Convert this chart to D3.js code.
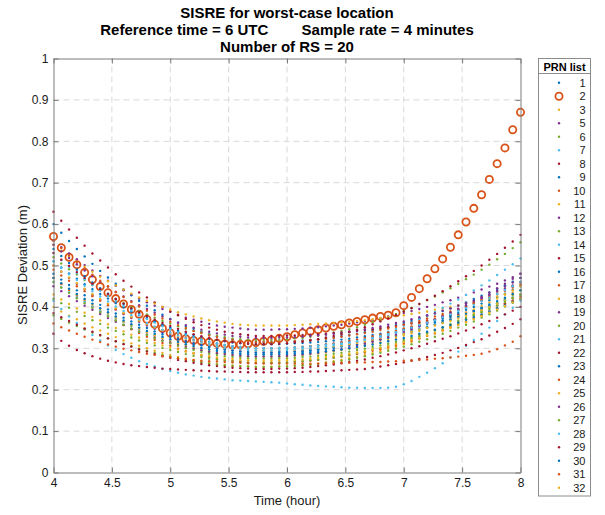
<!DOCTYPE html>
<html>
<head>
<meta charset="utf-8">
<script src="https://cdn.jsdelivr.net/npm/d3@7"></script>
<style>
  body { margin: 0; background: #fff; }
  svg { display: block; font-family: "Liberation Sans", Arial, Helvetica, sans-serif; }
</style>
</head>
<body>
<div id="chart"></div>
<script>
'use strict';

// sample times in minutes after 0 UTC (4 minute sample rate, 4h to 8h)
var minutes = [240,244,248,252,256,260,264,268,272,276,280,284,288,292,296,300,304,308,312,316,
  320,324,328,332,336,340,344,348,352,356,360,364,368,372,376,380,384,388,392,396,
  400,404,408,412,416,420,424,428,432,436,440,444,448,452,456,460,464,468,472,476,480];

var prnList = [1,2,3,5,6,7,8,9,10,11,12,13,14,15,16,17,18,19,20,21,22,23,24,25,26,27,28,29,30,31,32];
var xTicks = [4,4.5,5,5.5,6,6.5,7,7.5,8];
var yTicks = [0,0.1,0.2,0.3,0.4,0.5,0.6,0.7,0.8,0.9,1];

// SISRE deviation (m) per PRN
var p1  = [.600,.579,.559,.540,.522,.504,.487,.471,.456,.442,.428,.415,.403,.392,.381,.371,.362,.354,.347,.340,.334,.329,.325,.321,.318,.316,.315,.315,.315,.316,.316,.317,.319,.320,.322,.324,.327,.329,.332,.335,.339,.343,.347,.351,.356,.361,.366,.372,.378,.384,.390,.397,.404,.411,.419,.427,.435,.443,.452,.461,.470];
var p2  = [.570,.543,.520,.502,.483,.466,.449,.434,.420,.407,.394,.382,.370,.358,.348,.337,.329,.323,.319,.317,.315,.312,.310,.308,.309,.311,.314,.317,.320,.324,.328,.333,.337,.341,.345,.349,.353,.357,.361,.365,.369,.373,.377,.380,.386,.403,.423,.444,.468,.492,.516,.544,.574,.605,.638,.671,.708,.746,.784,.828,.870];
var p3  = [.400,.389,.379,.370,.360,.351,.343,.335,.327,.319,.312,.306,.300,.294,.289,.284,.279,.275,.271,.268,.265,.262,.260,.258,.257,.256,.255,.255,.255,.256,.257,.258,.259,.261,.263,.266,.269,.272,.276,.279,.284,.288,.293,.299,.304,.310,.316,.323,.330,.337,.345,.353,.361,.370,.379,.388,.398,.408,.418,.429,.440];
var p5  = [.560,.544,.529,.515,.501,.488,.475,.463,.451,.440,.430,.420,.411,.403,.395,.388,.381,.374,.369,.364,.359,.355,.352,.350,.348,.346,.345,.345,.345,.346,.346,.347,.348,.350,.351,.353,.355,.357,.360,.363,.366,.369,.373,.377,.381,.385,.390,.395,.400,.405,.411,.416,.422,.429,.435,.442,.449,.456,.464,.472,.480];
var p6  = [.520,.505,.491,.478,.465,.453,.441,.430,.419,.409,.399,.390,.382,.374,.366,.360,.353,.347,.342,.338,.333,.330,.327,.324,.322,.321,.320,.320,.320,.321,.322,.324,.325,.328,.331,.334,.338,.342,.346,.351,.357,.363,.369,.376,.383,.390,.398,.407,.416,.425,.435,.445,.456,.467,.478,.490,.502,.515,.528,.542,.556];
var p7  = [.415,.395,.377,.361,.346,.332,.319,.307,.296,.286,.277,.269,.262,.256,.250,.245,.241,.237,.234,.231,.229,.227,.225,.223,.222,.221,.220,.219,.218,.217,.215,.213,.212,.210,.209,.208,.207,.206,.205,.205,.204,.204,.204,.205,.207,.213,.221,.231,.241,.252,.264,.278,.292,.306,.320,.335,.350,.366,.382,.398,.415];
var p8  = [.630,.608,.587,.567,.548,.529,.512,.495,.479,.463,.449,.435,.423,.411,.400,.389,.380,.371,.363,.356,.350,.345,.340,.337,.334,.332,.330,.330,.330,.330,.331,.331,.332,.333,.334,.335,.337,.338,.340,.342,.344,.346,.349,.351,.354,.357,.360,.363,.367,.370,.374,.378,.382,.386,.390,.395,.400,.404,.409,.415,.420];
var p9  = [.540,.523,.506,.490,.474,.459,.445,.432,.419,.407,.395,.384,.374,.365,.356,.348,.340,.333,.327,.321,.316,.312,.308,.305,.303,.301,.300,.300,.300,.301,.301,.302,.303,.305,.307,.309,.311,.314,.317,.320,.323,.327,.331,.335,.340,.345,.350,.355,.361,.367,.373,.379,.386,.393,.400,.408,.416,.424,.432,.441,.450];
var p10 = [.470,.455,.441,.427,.414,.401,.389,.378,.367,.356,.346,.337,.328,.320,.313,.306,.299,.293,.288,.283,.279,.275,.272,.270,.268,.266,.265,.265,.265,.266,.266,.267,.268,.270,.272,.274,.277,.280,.283,.286,.290,.294,.298,.303,.307,.313,.318,.324,.330,.336,.343,.350,.357,.364,.372,.380,.389,.397,.406,.415,.425];
var p11 = [.550,.536,.522,.509,.497,.485,.473,.462,.452,.442,.432,.423,.415,.408,.400,.394,.387,.382,.377,.372,.368,.365,.362,.359,.357,.356,.355,.355,.355,.355,.355,.356,.357,.358,.359,.360,.361,.363,.364,.366,.368,.370,.373,.375,.378,.380,.383,.386,.389,.393,.396,.400,.404,.408,.412,.416,.421,.425,.430,.435,.440];
var p12 = [.500,.485,.470,.456,.443,.429,.417,.405,.394,.383,.373,.364,.355,.347,.339,.332,.325,.319,.313,.309,.304,.300,.297,.295,.293,.291,.290,.290,.290,.291,.291,.293,.294,.296,.298,.301,.303,.307,.310,.314,.318,.322,.327,.332,.338,.344,.350,.356,.363,.370,.378,.385,.393,.402,.410,.420,.429,.439,.449,.459,.470];
var p13 = [.380,.371,.362,.354,.346,.338,.331,.324,.317,.311,.305,.299,.294,.289,.284,.280,.276,.272,.269,.266,.263,.261,.259,.258,.257,.256,.255,.255,.255,.256,.256,.258,.259,.260,.262,.265,.267,.270,.273,.277,.281,.285,.289,.294,.299,.304,.310,.316,.322,.328,.335,.342,.350,.357,.365,.374,.382,.391,.401,.410,.420];
var p14 = [.460,.447,.435,.423,.412,.401,.391,.381,.372,.363,.354,.346,.339,.332,.326,.320,.314,.309,.304,.300,.297,.294,.291,.289,.287,.286,.285,.285,.285,.286,.287,.289,.290,.293,.295,.299,.302,.306,.311,.316,.321,.327,.333,.340,.347,.354,.362,.370,.379,.388,.398,.408,.418,.429,.440,.452,.464,.477,.490,.503,.517];
var p15 = [.335,.318,.306,.296,.288,.281,.275,.270,.266,.262,.259,.257,.255,.253,.251,.250,.249,.248,.247,.246,.245,.244,.244,.243,.243,.242,.242,.242,.242,.242,.242,.243,.243,.244,.244,.245,.246,.247,.248,.249,.250,.253,.256,.259,.262,.266,.270,.274,.279,.284,.289,.295,.301,.308,.315,.322,.331,.340,.349,.359,.370];
var p16 = [.510,.495,.481,.468,.455,.443,.431,.420,.409,.399,.389,.380,.372,.364,.356,.350,.343,.337,.332,.328,.323,.320,.317,.314,.312,.311,.310,.310,.310,.310,.311,.312,.313,.314,.315,.317,.319,.321,.323,.326,.329,.332,.335,.338,.342,.346,.350,.354,.359,.363,.368,.374,.379,.385,.390,.396,.403,.409,.416,.423,.430];
var p17 = [.490,.476,.463,.450,.438,.426,.415,.404,.394,.384,.375,.367,.359,.351,.344,.338,.332,.326,.321,.317,.313,.309,.307,.304,.302,.301,.300,.300,.300,.301,.301,.302,.304,.305,.307,.309,.312,.315,.318,.321,.325,.329,.333,.338,.342,.348,.353,.359,.365,.371,.378,.385,.392,.399,.407,.415,.424,.432,.441,.450,.460];
var p18 = [.470,.456,.443,.430,.418,.406,.395,.384,.374,.364,.355,.347,.339,.331,.324,.318,.312,.306,.301,.297,.293,.289,.287,.284,.282,.281,.280,.280,.280,.281,.281,.283,.284,.286,.288,.290,.293,.296,.299,.302,.306,.311,.315,.320,.325,.331,.336,.342,.349,.356,.363,.370,.378,.386,.394,.402,.411,.420,.430,.440,.450];
var p19 = [.550,.534,.518,.503,.488,.474,.461,.449,.436,.425,.414,.404,.395,.386,.377,.370,.362,.356,.350,.345,.340,.336,.333,.330,.328,.326,.325,.325,.325,.326,.326,.327,.328,.330,.331,.333,.335,.337,.340,.343,.346,.349,.353,.357,.361,.365,.370,.375,.380,.385,.391,.396,.403,.409,.415,.422,.429,.437,.444,.452,.460];
var p20 = [.420,.409,.398,.388,.378,.368,.359,.350,.342,.334,.326,.319,.313,.307,.301,.296,.291,.286,.282,.279,.275,.273,.270,.268,.267,.266,.265,.265,.265,.266,.266,.268,.269,.271,.273,.275,.278,.281,.284,.288,.292,.297,.301,.306,.311,.317,.323,.329,.336,.343,.350,.358,.366,.374,.382,.391,.400,.410,.419,.430,.440];
var p21 = [.530,.513,.497,.482,.467,.453,.439,.426,.414,.402,.391,.381,.371,.362,.353,.346,.338,.332,.326,.320,.315,.311,.308,.305,.303,.301,.300,.300,.300,.301,.301,.302,.303,.304,.306,.308,.310,.312,.314,.317,.320,.323,.327,.331,.335,.339,.343,.348,.353,.358,.363,.369,.375,.381,.387,.394,.400,.407,.415,.422,.430];
var p22 = [.385,.375,.366,.357,.348,.340,.332,.324,.317,.310,.304,.297,.292,.286,.281,.277,.272,.269,.265,.262,.259,.257,.255,.253,.252,.251,.250,.250,.250,.251,.251,.252,.253,.255,.257,.259,.261,.264,.267,.270,.273,.277,.281,.285,.290,.295,.300,.305,.311,.317,.323,.329,.336,.343,.350,.358,.366,.374,.382,.391,.400];
var p23 = [.480,.466,.453,.440,.428,.416,.405,.394,.384,.374,.365,.357,.349,.341,.334,.328,.322,.316,.311,.307,.303,.299,.297,.294,.292,.291,.290,.290,.290,.291,.291,.292,.293,.295,.297,.299,.301,.304,.307,.310,.313,.317,.321,.325,.330,.335,.340,.345,.351,.357,.363,.369,.376,.383,.390,.398,.406,.414,.422,.431,.440];
var p24 = [.560,.542,.525,.509,.493,.478,.463,.450,.436,.424,.412,.401,.391,.381,.372,.364,.356,.349,.342,.337,.331,.327,.323,.320,.318,.316,.315,.315,.315,.316,.316,.317,.318,.320,.321,.323,.325,.328,.331,.334,.337,.340,.344,.348,.352,.357,.361,.366,.372,.377,.383,.389,.395,.402,.409,.416,.423,.431,.439,.447,.455];
var p25 = [.500,.485,.471,.457,.444,.431,.419,.408,.397,.386,.376,.367,.358,.350,.343,.336,.329,.323,.318,.313,.309,.305,.302,.300,.298,.296,.295,.295,.295,.296,.296,.297,.298,.300,.301,.303,.305,.307,.310,.313,.316,.319,.323,.327,.331,.335,.340,.345,.350,.355,.361,.366,.372,.379,.385,.392,.399,.407,.414,.422,.430];
var p26 = [.450,.438,.426,.414,.403,.393,.383,.373,.364,.356,.347,.340,.333,.326,.319,.314,.308,.303,.299,.295,.291,.288,.286,.284,.282,.281,.280,.280,.280,.281,.282,.283,.285,.287,.289,.292,.295,.298,.302,.306,.311,.316,.321,.327,.333,.340,.346,.353,.361,.369,.377,.386,.395,.404,.414,.424,.434,.445,.456,.468,.480];
var p27 = [.460,.447,.434,.421,.409,.398,.387,.377,.367,.357,.348,.340,.332,.325,.318,.312,.306,.300,.296,.291,.287,.284,.281,.279,.277,.276,.275,.275,.275,.276,.276,.277,.279,.280,.282,.284,.287,.289,.292,.296,.299,.303,.307,.311,.316,.321,.326,.332,.338,.344,.350,.357,.364,.371,.379,.387,.395,.403,.412,.421,.430];
var p28 = [.510,.494,.479,.465,.451,.438,.425,.413,.401,.390,.380,.370,.361,.353,.345,.338,.331,.324,.319,.314,.309,.305,.302,.300,.298,.296,.295,.295,.295,.296,.296,.298,.299,.300,.302,.305,.307,.310,.313,.317,.321,.325,.329,.334,.339,.344,.350,.356,.362,.368,.375,.382,.390,.397,.405,.414,.422,.431,.441,.450,.460];
var p29 = [.530,.514,.499,.484,.470,.456,.443,.431,.419,.408,.397,.387,.378,.369,.361,.354,.347,.340,.334,.329,.325,.321,.318,.315,.313,.311,.310,.310,.310,.311,.312,.314,.316,.319,.322,.326,.330,.334,.339,.345,.351,.358,.365,.372,.380,.389,.397,.407,.417,.427,.438,.450,.462,.474,.487,.500,.514,.528,.543,.558,.574];
var p30 = [.470,.457,.444,.431,.419,.408,.397,.387,.377,.367,.358,.350,.342,.335,.328,.322,.316,.310,.306,.301,.297,.294,.291,.289,.287,.286,.285,.285,.285,.286,.286,.287,.288,.290,.291,.293,.295,.297,.300,.303,.306,.309,.313,.317,.321,.325,.330,.335,.340,.345,.351,.356,.362,.369,.375,.382,.389,.397,.404,.412,.420];
var p31 = [.360,.351,.343,.335,.328,.321,.315,.309,.304,.299,.295,.291,.287,.284,.281,.278,.276,.274,.272,.270,.269,.268,.267,.266,.265,.264,.264,.263,.263,.263,.263,.263,.263,.263,.263,.264,.264,.265,.265,.266,.266,.267,.267,.268,.269,.270,.271,.272,.273,.275,.276,.278,.280,.282,.284,.287,.292,.298,.307,.316,.329];
var p32 = [.430,.418,.407,.396,.386,.376,.367,.358,.349,.341,.333,.326,.319,.313,.307,.302,.297,.292,.288,.284,.281,.278,.275,.274,.272,.271,.270,.270,.270,.271,.271,.272,.273,.275,.277,.279,.281,.284,.287,.290,.293,.297,.301,.305,.310,.315,.320,.325,.331,.337,.343,.349,.356,.363,.370,.378,.386,.394,.402,.411,.420];

var sisre = [p1,p2,p3,p5,p6,p7,p8,p9,p10,p11,p12,p13,p14,p15,p16,p17,p18,p19,p20,p21,p22,p23,p24,p25,p26,p27,p28,p29,p30,p31,p32];

// matlab default line colours
var palette = ['#0072BD','#D95319','#EDB120','#7E2F8E','#77AC30','#4DBEEE','#A2142F'];
var circlePrn = 2;

var width = 605, height = 515;
var axisColor = '#7a7a7a', textColor = '#1a1a1a';

var svg = d3.select('#chart').append('svg')
  .attr('width', width)
  .attr('height', height);

svg.append('rect').attr('width', width).attr('height', height).attr('fill', '#fff');

var x = d3.scaleLinear().domain([4, 8]).range([53.5, 520.5]);
var y = d3.scaleLinear().domain([0, 1]).range([472.5, 58.5]);

// dashed grid
var grid = svg.append('g').attr('stroke', '#d9d9d9').attr('stroke-dasharray', '6,4');
grid.selectAll('line.gx')
  .data(xTicks.slice(1, -1))
  .enter().append('line')
    .attr('x1', function(d) { return x(d); })
    .attr('x2', function(d) { return x(d); })
    .attr('y1', y(0))
    .attr('y2', y(1));
grid.selectAll('line.gy')
  .data(yTicks.slice(1, -1))
  .enter().append('line')
    .attr('x1', x(4))
    .attr('x2', x(8))
    .attr('y1', function(d) { return y(d); })
    .attr('y2', function(d) { return y(d); });

// points, one group per PRN in plotting order
var plot = svg.append('g');
sisre.forEach(function(vals, k) {
  var color = palette[k % palette.length];
  var g = plot.append('g');
  if (prnList[k] === circlePrn) {
    g.selectAll('circle')
      .data(vals)
      .enter().append('circle')
        .attr('cx', function(d, i) { return x(minutes[i] / 60); })
        .attr('cy', function(d) { return y(d); })
        .attr('r', 3.6)
        .attr('fill', 'none')
        .attr('stroke', color)
        .attr('stroke-width', 1.8);
  } else {
    g.selectAll('circle')
      .data(vals)
      .enter().append('circle')
        .attr('cx', function(d, i) { return x(minutes[i] / 60); })
        .attr('cy', function(d) { return y(d); })
        .attr('r', 1.2)
        .attr('fill', color);
  }
});

// axes, ticks pointing inwards on all four sides
function styleAxis(sel) {
  sel.attr('font-family', null).attr('font-size', 12);
  sel.selectAll('.domain').attr('stroke', axisColor);
  sel.selectAll('.tick line').attr('stroke', axisColor);
  sel.selectAll('.tick text').attr('fill', textColor);
}

svg.append('g')
  .attr('transform', 'translate(0,' + y(0) + ')')
  .call(d3.axisBottom(x).tickValues(xTicks).tickFormat(d3.format('~g'))
    .tickSizeInner(-5).tickSizeOuter(0).tickPadding(6))
  .call(styleAxis);

svg.append('g')
  .attr('transform', 'translate(' + x(4) + ',0)')
  .call(d3.axisLeft(y).tickValues(yTicks).tickFormat(d3.format('~g'))
    .tickSizeInner(-5).tickSizeOuter(0).tickPadding(5))
  .call(styleAxis);

svg.append('g')
  .attr('transform', 'translate(0,' + y(1) + ')')
  .call(d3.axisTop(x).tickValues(xTicks).tickFormat('').tickSizeInner(-5).tickSizeOuter(0))
  .call(styleAxis);

svg.append('g')
  .attr('transform', 'translate(' + x(8) + ',0)')
  .call(d3.axisRight(y).tickValues(yTicks).tickFormat('').tickSizeInner(-5).tickSizeOuter(0))
  .call(styleAxis);

// titles
var titles = ['SISRE for worst-case location',
  'Reference time = 6 UTC        Sample rate = 4 minutes',
  'Number of RS = 20'];
svg.selectAll('text.title')
  .data(titles)
  .enter().append('text')
    .attr('class', 'title')
    .attr('x', 287)
    .attr('y', function(d, i) { return 17.5 + i * 17; })
    .attr('text-anchor', 'middle')
    .attr('font-size', 15)
    .attr('font-weight', 'bold')
    .attr('fill', '#000')
    .style('white-space', 'pre')
    .text(function(d) { return d; });

svg.append('text')
  .attr('x', 287)
  .attr('y', 505)
  .attr('text-anchor', 'middle')
  .attr('font-size', 13)
  .attr('fill', textColor)
  .text('Time (hour)');

svg.append('text')
  .attr('transform', 'translate(26.5,265) rotate(-90)')
  .attr('text-anchor', 'middle')
  .attr('font-size', 13)
  .attr('fill', textColor)
  .text('SISRE Deviation (m)');

// legend
var legend = svg.append('g');
legend.append('rect')
  .attr('x', 538.5).attr('y', 58.5)
  .attr('width', 52).attr('height', 437.5)
  .attr('fill', '#fff')
  .attr('stroke', '#8c8c8c');
legend.append('line')
  .attr('x1', 538.5).attr('x2', 590.5)
  .attr('y1', 73.5).attr('y2', 73.5)
  .attr('stroke', '#8c8c8c');
legend.append('text')
  .attr('x', 564.5).attr('y', 70.5)
  .attr('text-anchor', 'middle')
  .attr('font-size', 11)
  .attr('font-weight', 'bold')
  .attr('fill', '#000')
  .text('PRN list');

var items = legend.selectAll('g.item')
  .data(prnList)
  .enter().append('g')
    .attr('class', 'item')
    .attr('transform', function(d, i) { return 'translate(0,' + (82.7 + i * 13.5) + ')'; });

items.append('circle')
  .attr('cx', 559)
  .attr('cy', 0)
  .attr('r', function(d) { return d === circlePrn ? 3.6 : 1.2; })
  .attr('fill', function(d, i) { return d === circlePrn ? 'none' : palette[i % palette.length]; })
  .attr('stroke', function(d, i) { return d === circlePrn ? palette[i % palette.length] : null; })
  .attr('stroke-width', 1.8);

items.append('text')
  .attr('x', 585.5)
  .attr('y', 4)
  .attr('text-anchor', 'end')
  .attr('font-size', 11)
  .attr('fill', textColor)
  .text(function(d) { return d; });

var bad = sisre.map(function(s, k) { return s.length !== minutes.length ? 'PRN' + prnList[k] + ':' + s.length : null; })
  .filter(Boolean);
if (bad.length) throw new Error('length mismatch ' + bad.join(' '));
</script>
</body>
</html>
